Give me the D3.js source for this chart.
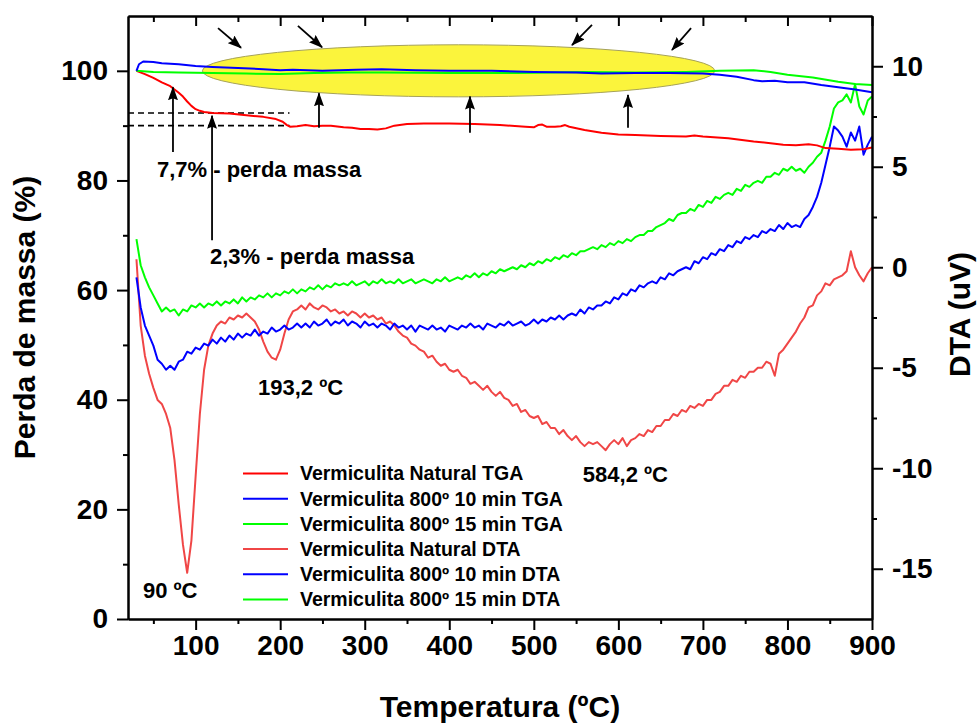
<!DOCTYPE html>
<html>
<head>
<meta charset="utf-8">
<script src="https://cdnjs.cloudflare.com/ajax/libs/d3/7.8.5/d3.min.js"></script>
<style>
  body { margin: 0; background: #fff; }
  svg text { font-family: "Liberation Sans", Arial, Helvetica, sans-serif; font-weight: bold; fill: #000; }
</style>
</head>
<body>
<svg id="chart" width="978" height="724"></svg>
<script>
// ---- Thermogravimetric curves (mass %, left axis) ----
const tgaNaturalT = [30,40,50,60,70,75,80,85,90,95,100,105,110,120,140,160,180,195,203,208,212,220,230,240,250,260,275,285,295,305,315,325,335,350,370,400,430,460,490,500,505,510,515,525,532,537,542,560,580,600,620,650,680,690,700,730,760,780,795,810,825,835,845,860,875,890,900];
const tgaNaturalV = [100,99.4,98.7,97.9,97.2,96.6,96.0,95.3,94.4,93.6,93.0,92.7,92.5,92.3,92.2,91.9,91.6,91.2,90.7,90.1,89.8,89.9,90.1,89.9,90.0,90.0,89.7,89.6,89.4,89.4,89.3,89.5,90.0,90.3,90.4,90.4,90.3,90.1,89.8,89.7,90.1,90.2,89.8,89.8,89.9,90.1,89.8,89.2,88.7,88.4,88.3,88.1,88.0,88.2,88.0,87.7,87.1,86.8,86.5,86.4,86.6,86.4,85.9,85.8,85.6,85.7,86.0];

const tga10T = [30,33,38,50,60,80,100,120,150,180,200,215,250,290,320,360,400,450,500,550,580,620,660,700,720,740,760,770,785,800,820,840,860,880,900];
const tga10V = [100,101.2,101.7,101.6,101.4,101.2,100.9,100.7,100.5,100.3,100.1,100.2,100.0,100.2,100.3,100.1,100.0,100.0,99.8,99.7,99.5,99.6,99.6,99.5,99.3,98.9,98.3,98.1,98.2,97.9,97.9,97.4,97.0,96.6,96.1];

const tga15T = [30,50,80,120,160,200,240,280,320,400,480,560,620,680,720,760,780,800,830,860,880,900];
const tga15V = [100,99.8,99.7,99.6,99.5,99.4,99.6,99.7,99.7,99.6,99.6,99.8,99.7,99.8,100.0,100.1,99.8,99.3,98.8,98.0,97.6,97.4];

// ---- Differential thermal curves (uV, right axis), sampled every 5 ºC ----
const dtaT = [
  30,35,40,45,50,55,60,65,70,75,
  80,85,90,95,100,105,110,115,120,125,
  130,135,140,145,150,155,160,165,170,175,
  180,185,190,195,200,205,210,215,220,225,
  230,235,240,245,250,255,260,265,270,275,
  280,285,290,295,300,305,310,315,320,325,
  330,335,340,345,350,355,360,365,370,375,
  380,385,390,395,400,405,410,415,420,425,
  430,435,440,445,450,455,460,465,470,475,
  480,485,490,495,500,505,510,515,520,525,
  530,535,540,545,550,555,560,565,570,575,
  580,585,590,595,600,605,610,615,620,625,
  630,635,640,645,650,655,660,665,670,675,
  680,685,690,695,700,705,710,715,720,725,
  730,735,740,745,750,755,760,765,770,775,
  780,785,790,795,800,805,810,815,820,825,
  830,835,840,845,850,855,860,865,870,875,
  880,885,890,895,900
];
const dtaNaturalV = [
  0.4,-2.9,-4.4,-5.3,-6.0,-6.6,-6.8,-7.3,-8.0,-9.6,
  -11.8,-13.8,-15.2,-13.6,-10.4,-7.3,-5.1,-3.9,-3.3,-2.9,
  -2.7,-2.8,-2.5,-2.6,-2.4,-2.5,-2.3,-2.5,-2.7,-3.1,
  -3.7,-4.2,-4.5,-4.6,-4.1,-3.3,-2.6,-2.2,-2.1,-1.9,
  -2.1,-1.8,-2.0,-2.1,-1.9,-2.0,-2.2,-2.1,-2.3,-2.2,
  -2.4,-2.2,-2.3,-2.5,-2.3,-2.5,-2.4,-2.6,-2.5,-2.8,
  -2.7,-2.9,-3.2,-3.4,-3.5,-3.8,-3.9,-4.1,-4.2,-4.5,
  -4.4,-4.7,-4.9,-4.8,-5.1,-5.2,-5.1,-5.4,-5.5,-5.8,
  -5.7,-5.9,-6.1,-5.9,-6.2,-6.4,-6.2,-6.5,-6.6,-6.9,
  -6.8,-7.2,-7.1,-7.4,-7.5,-7.4,-7.8,-7.7,-8.0,-8.0,
  -8.3,-8.1,-8.4,-8.6,-8.4,-8.7,-8.9,-8.7,-8.8,-8.7,
  -8.9,-9.1,-8.8,-8.6,-8.8,-8.5,-8.9,-8.6,-8.5,-8.3,
  -8.4,-8.1,-8.2,-7.9,-7.9,-7.6,-7.6,-7.3,-7.4,-7.1,
  -7.2,-6.9,-7.0,-6.8,-6.9,-6.6,-6.6,-6.3,-6.2,-5.9,
  -5.9,-5.6,-5.7,-5.4,-5.5,-5.2,-5.2,-5.0,-5.0,-4.7,
  -4.8,-5.4,-4.3,-4.1,-3.8,-3.5,-3.2,-2.8,-2.5,-2.0,
  -1.9,-1.4,-1.2,-0.8,-0.9,-0.6,-0.5,-0.4,-0.2,0.8,
  0.0,-0.4,-0.7,-0.3,0.0
];
const dta10V = [
  -0.5,-2.0,-2.9,-3.4,-3.9,-4.6,-4.8,-5.1,-4.9,-5.1,
  -4.7,-4.6,-4.2,-4.3,-4.0,-4.1,-3.8,-3.9,-3.6,-3.8,
  -3.5,-3.7,-3.4,-3.6,-3.3,-3.5,-3.3,-3.4,-3.1,-3.4,
  -3.2,-3.3,-3.0,-3.2,-3.1,-2.9,-3.1,-3.0,-2.8,-3.0,
  -2.8,-3.0,-2.7,-2.9,-2.8,-2.6,-2.9,-2.7,-2.8,-2.6,
  -2.9,-2.7,-2.8,-3.0,-2.7,-2.9,-2.8,-3.0,-2.8,-2.9,
  -3.1,-2.8,-3.0,-2.9,-3.1,-2.9,-3.2,-2.9,-3.0,-3.1,
  -2.9,-3.1,-3.0,-3.2,-2.9,-3.0,-3.1,-2.9,-3.0,-2.8,
  -3.0,-2.9,-3.1,-2.8,-2.9,-3.0,-2.8,-2.9,-2.7,-2.9,
  -2.8,-2.7,-2.9,-2.8,-2.6,-2.8,-2.6,-2.7,-2.5,-2.6,
  -2.4,-2.6,-2.4,-2.3,-2.4,-2.1,-2.3,-2.0,-2.1,-1.9,
  -1.9,-1.7,-1.8,-1.5,-1.6,-1.3,-1.4,-1.1,-1.2,-0.9,
  -1.0,-0.8,-0.7,-0.8,-0.5,-0.6,-0.3,-0.4,-0.2,-0.1,
  0.0,-0.1,0.3,0.2,0.5,0.4,0.7,0.6,0.9,0.8,
  1.1,1.0,1.3,1.2,1.5,1.4,1.6,1.5,1.8,1.7,
  1.9,1.8,2.1,1.9,2.2,2.0,2.1,2.0,2.4,2.6,
  3.0,3.5,4.2,5.1,6.0,7.0,6.8,6.5,6.0,6.7,
  6.3,7.0,5.6,6.1,6.5
];
const dta15V = [
  1.4,0.1,-0.5,-1.0,-1.4,-1.8,-2.2,-2.0,-2.2,-2.1,
  -2.4,-2.1,-2.2,-1.9,-2.0,-1.8,-2.0,-1.8,-1.9,-1.7,
  -1.9,-1.7,-1.8,-1.6,-1.8,-1.5,-1.7,-1.5,-1.6,-1.4,
  -1.5,-1.3,-1.5,-1.3,-1.4,-1.2,-1.3,-1.1,-1.3,-1.1,
  -1.2,-1.0,-1.1,-0.9,-1.1,-0.9,-1.0,-0.8,-0.9,-0.8,
  -0.9,-0.7,-0.9,-0.8,-0.7,-0.9,-0.7,-0.8,-0.6,-0.8,
  -0.7,-0.8,-0.6,-0.8,-0.7,-0.6,-0.8,-0.7,-0.6,-0.7,
  -0.8,-0.6,-0.7,-0.5,-0.7,-0.6,-0.5,-0.6,-0.4,-0.5,
  -0.3,-0.5,-0.3,-0.4,-0.2,-0.3,-0.1,-0.2,-0.1,0.0,
  -0.1,0.1,0.0,0.2,0.1,0.3,0.2,0.4,0.3,0.5,
  0.4,0.6,0.5,0.7,0.6,0.8,0.8,0.9,1.0,0.9,
  1.1,1.0,1.2,1.1,1.3,1.2,1.4,1.3,1.5,1.6,
  1.6,1.8,1.8,2.0,2.1,2.2,2.4,2.3,2.6,2.7,
  2.7,2.9,2.8,3.1,3.0,3.3,3.2,3.5,3.4,3.6,
  3.7,3.6,3.9,3.8,4.1,4.0,4.2,4.3,4.2,4.5,
  4.5,4.7,4.6,4.9,4.8,5.0,4.8,4.9,4.7,5.0,
  5.2,5.5,5.7,6.3,7.0,7.9,8.2,8.3,8.6,8.2,
  9.1,8.0,7.6,8.3,8.5
];

// ---- Axis ticks ----
const xMajor = [100,200,300,400,500,600,700,800,900];
const xMinor = [50,150,250,350,450,550,650,750,850];
const yLeftMajor = [0,20,40,60,80,100];
const yLeftMinor = [10,30,50,70,90];
const yRightMajor = [-15,-10,-5,0,5,10];
const yRightMinor = [-12.5,-7.5,-2.5,2.5,7.5];

const legendNames = [
  "Vermiculita Natural TGA",
  "Vermiculita 800º 10 min TGA",
  "Vermiculita 800º 15 min TGA",
  "Vermiculita Natural DTA",
  "Vermiculita 800º 10 min DTA",
  "Vermiculita 800º 15 min DTA"
];

// ---- Layout ----
const plot = { left: 128, right: 872, top: 16, bottom: 619 };
const RED = "#ff0000", BLUE = "#0000ff", GREEN = "#00ff00", LIGHTRED = "#f04646";

const x = d3.scaleLinear().domain([20, 900]).range([plot.left, plot.right]);
const yL = d3.scaleLinear().domain([0, 110]).range([plot.bottom, plot.top]);
const yR = d3.scaleLinear().domain([-17.5, 12.5]).range([plot.bottom, plot.top]);

const svg = d3.select("#chart");

// arrowhead marker
svg.append("defs").append("marker")
  .attr("id", "head")
  .attr("viewBox", "0 0 14 10")
  .attr("refX", 13).attr("refY", 5)
  .attr("markerWidth", 14).attr("markerHeight", 10)
  .attr("markerUnits", "userSpaceOnUse")
  .attr("orient", "auto")
  .append("path").attr("d", "M0,0 L14,5 L0,10 L2,5 Z").attr("fill", "#000");

// highlighted region around the near-flat TGA curves (in data units: ºC, %)
const ell = { t: 411, m: 100, dt: 303, dm: 4.75 };
svg.append("ellipse")
  .attr("cx", x(ell.t)).attr("cy", yL(ell.m))
  .attr("rx", x(ell.t + ell.dt) - x(ell.t))
  .attr("ry", yL(ell.m - ell.dm) - yL(ell.m))
  .attr("fill", "#fbf43c").attr("stroke", "#a6a25a").attr("stroke-width", 1);

// reference levels for the two mass-loss steps
const lossLevels = [92.3, 90.0];
svg.selectAll(".lvl").data(lossLevels).enter().append("line")
  .attr("x1", x(20)).attr("x2", x(211))
  .attr("y1", d => yL(d)).attr("y2", d => yL(d))
  .attr("stroke", "#000").attr("stroke-width", 1.6).attr("stroke-dasharray", "6,4");

// curves
const lineL = d3.line().x(d => x(d[0])).y(d => yL(d[1]));
const lineR = d3.line().x(d => x(d[0])).y(d => yR(d[1]));
const series = [
  { pts: d3.zip(dtaT, dtaNaturalV), gen: lineR, color: LIGHTRED },
  { pts: d3.zip(dtaT, dta10V), gen: lineR, color: BLUE },
  { pts: d3.zip(dtaT, dta15V), gen: lineR, color: GREEN },
  { pts: d3.zip(tgaNaturalT, tgaNaturalV), gen: lineL, color: RED },
  { pts: d3.zip(tga15T, tga15V), gen: lineL, color: GREEN },
  { pts: d3.zip(tga10T, tga10V), gen: lineL, color: BLUE }
];
series.forEach(s => {
  svg.append("path").attr("d", s.gen(s.pts))
    .attr("fill", "none").attr("stroke", s.color).attr("stroke-width", 2)
    .attr("stroke-linejoin", "round");
});

// arrows, given as [t1, m1, t2, m2] in ºC and mass %
const arrows = [
  [126.5, 107.8, 153.7, 104.2],
  [221, 108.2, 249.5, 104.3],
  [568.8, 108.4, 545.2, 104.7],
  [686, 107.8, 663.4, 103.8],
  [245.9, 89.6, 245.9, 95.9],
  [424.5, 88.7, 424.5, 95.3],
  [611.4, 89.6, 611.4, 95.6],
  [73.2, 85.2, 73.2, 97.0],
  [119.4, 69.1, 119.4, 91.8]
];
svg.selectAll(".arrow").data(arrows).enter().append("line")
  .attr("x1", d => x(d[0])).attr("y1", d => yL(d[1]))
  .attr("x2", d => x(d[2])).attr("y2", d => yL(d[3]))
  .attr("stroke", "#000").attr("stroke-width", 1.8)
  .attr("marker-end", "url(#head)");

// axes
function styleAxis(g, fs) {
  g.selectAll("path, line").attr("stroke", "#000").attr("stroke-width", 2);
  g.selectAll("text").attr("font-size", fs).attr("fill", "#000")
    .attr("font-family", "'Liberation Sans', Arial, sans-serif").attr("font-weight", "bold");
}
const fmt = d => String(d);
svg.append("g").attr("transform", `translate(0,${plot.bottom})`)
  .call(d3.axisBottom(x).tickValues(xMinor).tickSize(5).tickSizeOuter(0).tickFormat(""))
  .call(g => styleAxis(g, 27));
svg.append("g").attr("transform", `translate(0,${plot.bottom})`)
  .call(d3.axisBottom(x).tickValues(xMajor).tickSize(11).tickSizeOuter(0).tickPadding(5).tickFormat(fmt))
  .call(g => styleAxis(g, 28));
svg.append("g").attr("transform", `translate(0,${plot.top})`)
  .call(d3.axisTop(x).tickValues(xMinor).tickSize(-6).tickSizeOuter(0).tickFormat(""))
  .call(g => styleAxis(g, 27));
svg.append("g").attr("transform", `translate(0,${plot.top})`)
  .call(d3.axisTop(x).tickValues(xMajor).tickSize(-10).tickSizeOuter(0).tickFormat(""))
  .call(g => styleAxis(g, 27));
svg.append("g").attr("transform", `translate(${plot.left},0)`)
  .call(d3.axisLeft(yL).tickValues(yLeftMinor).tickSize(5).tickSizeOuter(0).tickFormat(""))
  .call(g => styleAxis(g, 27));
svg.append("g").attr("transform", `translate(${plot.left},0)`)
  .call(d3.axisLeft(yL).tickValues(yLeftMajor).tickSize(11).tickSizeOuter(0).tickPadding(9).tickFormat(fmt))
  .call(g => styleAxis(g, 28));
svg.append("g").attr("transform", `translate(${plot.right},0)`)
  .call(d3.axisRight(yR).tickValues(yRightMinor).tickSize(5).tickSizeOuter(0).tickFormat(""))
  .call(g => styleAxis(g, 27));
svg.append("g").attr("transform", `translate(${plot.right},0)`)
  .call(d3.axisRight(yR).tickValues(yRightMajor).tickSize(11).tickSizeOuter(0).tickPadding(9).tickFormat(fmt))
  .call(g => styleAxis(g, 28));

// axis titles
svg.append("text").attr("x", (plot.left + plot.right) / 2).attr("y", 717)
  .attr("text-anchor", "middle").attr("font-size", 30).text("Temperatura (ºC)");
svg.append("text").attr("transform", `translate(35,${(plot.top + plot.bottom) / 2}) rotate(-90)`)
  .attr("text-anchor", "middle").attr("font-size", 30).text("Perda de massa (%)");
svg.append("text").attr("transform", `translate(970,377) rotate(-90)`)
  .attr("text-anchor", "start").attr("font-size", 30).text("DTA (uV)");

// annotation labels: [text, ºC, value, axis]
const notes = [
  ["7,7% - perda massa", 54.3, 80.6, "L"],
  ["2,3% - perda massa", 117, 64.8, "L"],
  ["193,2 ºC", 173.8, -6.36, "R"],
  ["584,2 ºC", 558, -10.68, "R"],
  ["90 ºC", 37.7, -16.46, "R"]
];
svg.selectAll(".note").data(notes).enter().append("text")
  .attr("x", d => x(d[1])).attr("y", d => d[3] === "L" ? yL(d[2]) : yR(d[2]))
  .attr("font-size", 22).text(d => d[0]);

// legend
const legendColors = [RED, BLUE, GREEN, LIGHTRED, BLUE, GREEN];
const lg = svg.append("g");
legendNames.forEach((name, i) => {
  const yy = 473.5 + i * 25.2;
  lg.append("line").attr("x1", 243).attr("x2", 288).attr("y1", yy).attr("y2", yy)
    .attr("stroke", legendColors[i]).attr("stroke-width", 2);
  lg.append("text").attr("x", 300).attr("y", yy).attr("dy", "0.35em")
    .attr("font-size", 19.5).text(name);
});
</script>
</body>
</html>
